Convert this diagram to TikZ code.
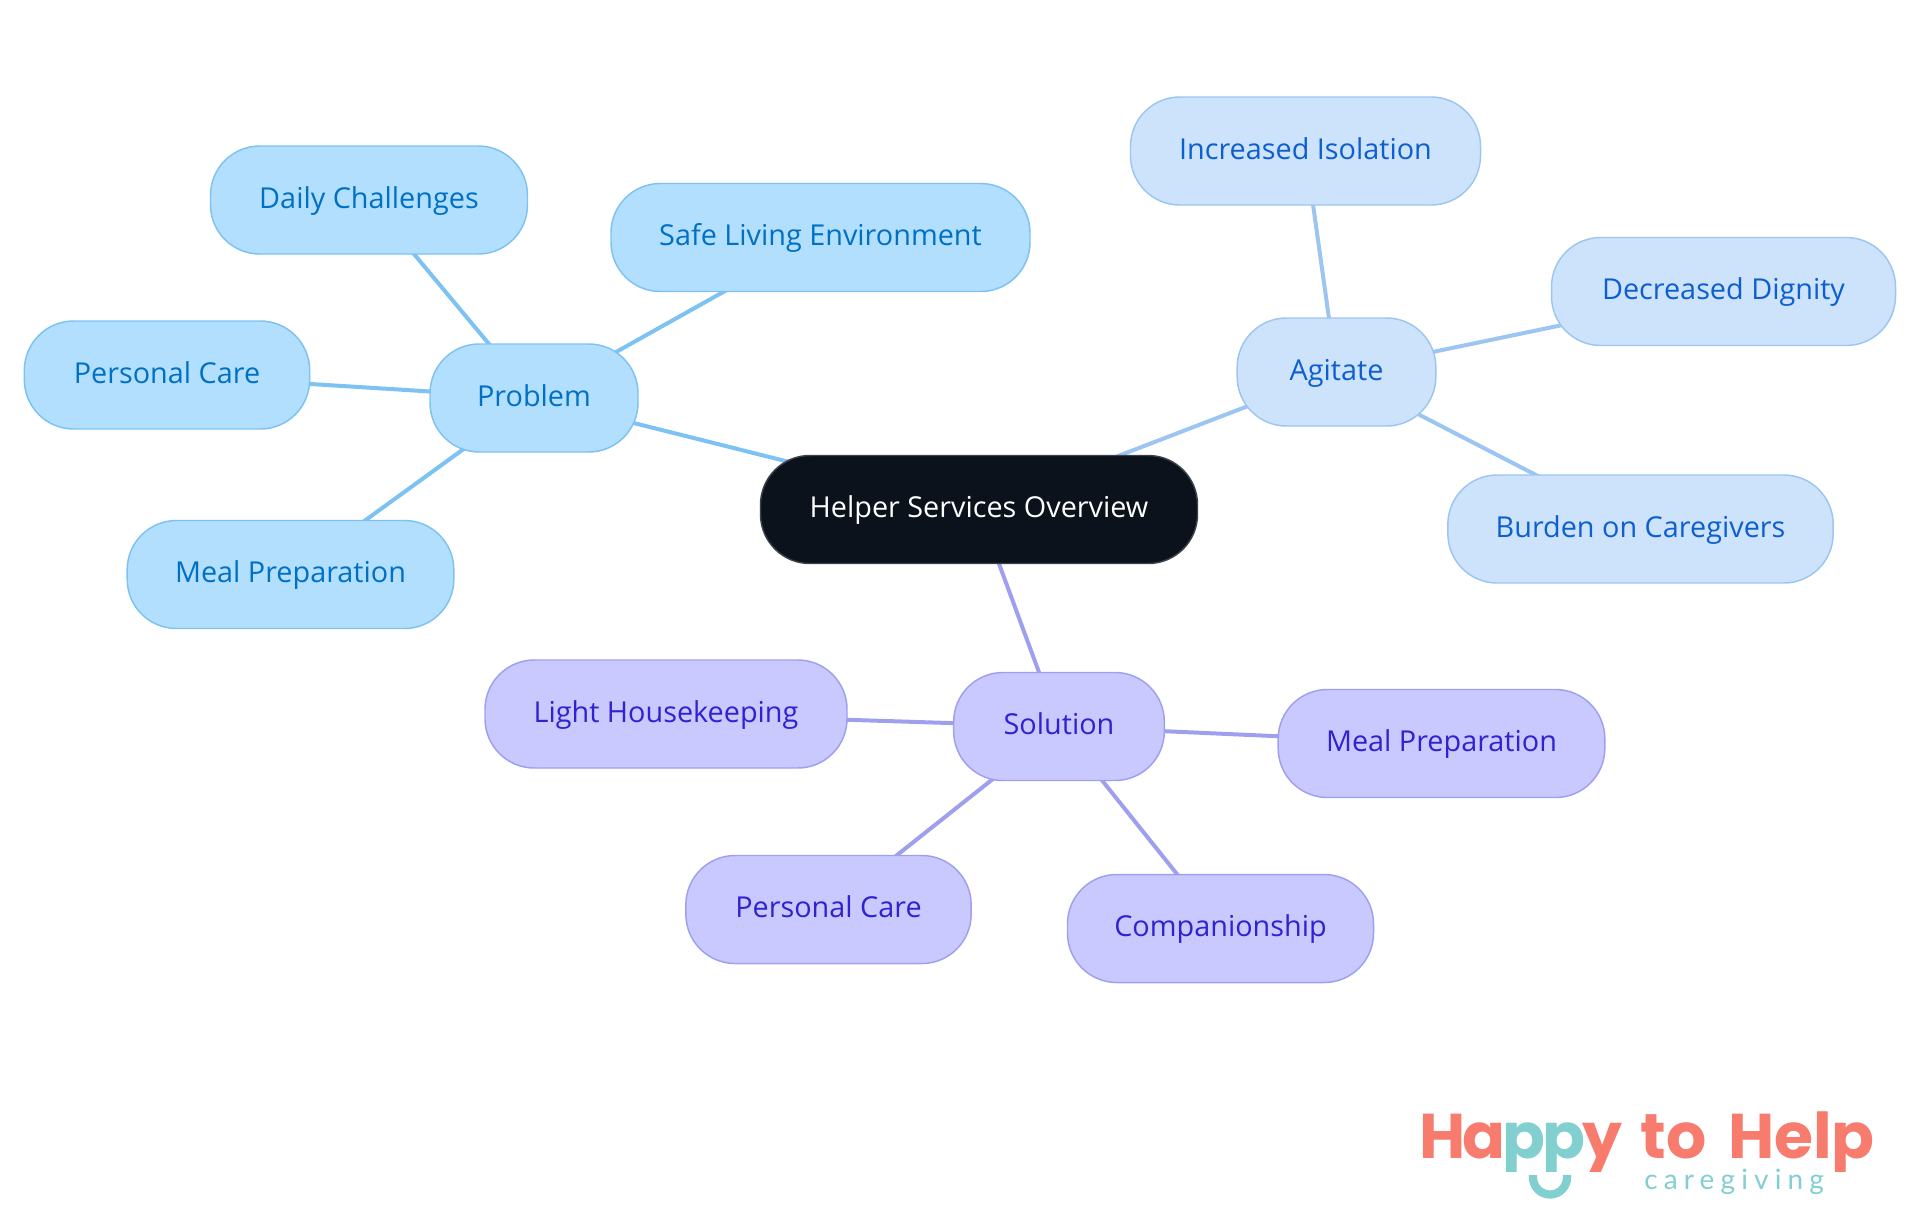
\documentclass[tikz,border=0pt]{standalone}
\usepackage{fontspec}
\setmainfont{Open Sans}
\newfontfamily\logofont{Poppins}
\newfontfamily\logosubfont[LetterSpace=22]{Lato}
\usetikzlibrary{backgrounds}
\definecolor{rootfill}{HTML}{0B121B}
\definecolor{rootline}{HTML}{3C4248}
\definecolor{problemfill}{HTML}{B3DFFF}
\definecolor{problemline}{HTML}{7CC2F2}
\definecolor{problemtext}{HTML}{0070C4}
\definecolor{agitatefill}{HTML}{CDE3FC}
\definecolor{agitateline}{HTML}{9CC5F2}
\definecolor{agitatetext}{HTML}{0D5FD0}
\definecolor{solutionfill}{HTML}{C9C9FF}
\definecolor{solutionline}{HTML}{9F9FF0}
\definecolor{solutiontext}{HTML}{2F22D0}
\definecolor{logored}{HTML}{F87C6E}
\definecolor{logoteal}{HTML}{81CFCE}
\tikzset{
  pill/.style={rounded corners=37pt, minimum height=81pt, inner sep=0pt, line width=1.1pt,
    font=\fontsize{21.6}{26}\selectfont, text height=15.5pt, text depth=3.5pt},
  rootnode/.style={pill, draw=rootline, fill=rootfill, text=white},
  problemnode/.style={pill, draw=problemline, fill=problemfill, text=problemtext},
  agitatenode/.style={pill, draw=agitateline, fill=agitatefill, text=agitatetext},
  solutionnode/.style={pill, draw=solutionline, fill=solutionfill, text=solutiontext},
  problemedge/.style={line width=3pt, problemline},
  agitateedge/.style={line width=3pt, agitateline},
  solutionedge/.style={line width=3pt, solutionline}
}
\begin{document}
\begin{tikzpicture}[x=0.75pt,y=-0.75pt]
  \useasboundingbox (0,0) rectangle (1920,1215);
  \node[rootnode, minimum width=327.75pt] (root) at (979,509.5) {Helper Services Overview};

  \node[problemnode, minimum width=156pt] (problem) at (534,398) {Problem};
  \node[problemnode, minimum width=237.75pt] (daily) at (369,200) {Daily Challenges};
  \node[problemnode, minimum width=314.25pt] (safe) at (820.5,237.5) {Safe Living Environment};
  \node[problemnode, minimum width=214pt] (pcareA) at (167,375) {Personal Care};
  \node[problemnode, minimum width=245pt] (mealA) at (290.5,574.5) {Meal Preparation};

  \node[agitatenode, minimum width=149pt] (agitate) at (1336.5,372) {Agitate};
  \node[agitatenode, minimum width=262.5pt] (isolation) at (1305.5,151) {Increased Isolation};
  \node[agitatenode, minimum width=258pt] (dignity) at (1723.5,291.5) {Decreased Dignity};
  \node[agitatenode, minimum width=289pt] (burden) at (1640.5,529) {Burden on Caregivers};

  \node[solutionnode, minimum width=158pt] (solution) at (1059,726.5) {Solution};
  \node[solutionnode, minimum width=271.5pt] (housekeeping) at (666,714) {Light Housekeeping};
  \node[solutionnode, minimum width=245pt] (mealB) at (1441.5,743.5) {Meal Preparation};
  \node[solutionnode, minimum width=214pt] (pcareB) at (828.5,909.5) {Personal Care};
  \node[solutionnode, minimum width=229.5pt] (companion) at (1220.5,928.5) {Companionship};

  \begin{pgfonlayer}{background}
    \draw[problemedge] (root.center) -- (problem.center);
    \draw[problemedge] (problem.center) -- (daily.center);
    \draw[problemedge] (problem.center) -- (safe.center);
    \draw[problemedge] (problem.center) -- (pcareA.center);
    \draw[problemedge] (problem.center) -- (mealA.center);
    \draw[agitateedge] (root.center) -- (agitate.center);
    \draw[agitateedge] (agitate.center) -- (isolation.center);
    \draw[agitateedge] (agitate.center) -- (dignity.center);
    \draw[agitateedge] (agitate.center) -- (burden.center);
    \draw[solutionedge] (root.center) -- (solution.center);
    \draw[solutionedge] (solution.center) -- (housekeeping.center);
    \draw[solutionedge] (solution.center) -- (mealB.center);
    \draw[solutionedge] (solution.center) -- (pcareB.center);
    \draw[solutionedge] (solution.center) -- (companion.center);
  \end{pgfonlayer}

  % logo
  \begin{scope}
    \clip (1400,1100) rectangle (1890,1171);
    \node[anchor=base west, inner sep=0pt, text depth=0pt, text=logored, font=\logofont\bfseries\fontsize{47.4}{52}\selectfont]
      (logo) at (1419,1158) {H\kern-2.2pt a\kern-2.2pt{\color{logoteal}p\kern-2.2pt p}\kern-2.2pt y\kern3.7pt\ to\kern6pt\ Help};
  \end{scope}
  \node[anchor=base west, inner sep=0pt, text=logoteal, font=\logosubfont\fontsize{21}{26}\selectfont]
    (logosub) at (1644,1189) {caregiving};
  \draw[logoteal, line width=6.2pt] (1533,1175) -- (1533,1177.5) arc[start angle=180, end angle=0, radius=17] -- (1567,1175);
\end{tikzpicture}
\end{document}
